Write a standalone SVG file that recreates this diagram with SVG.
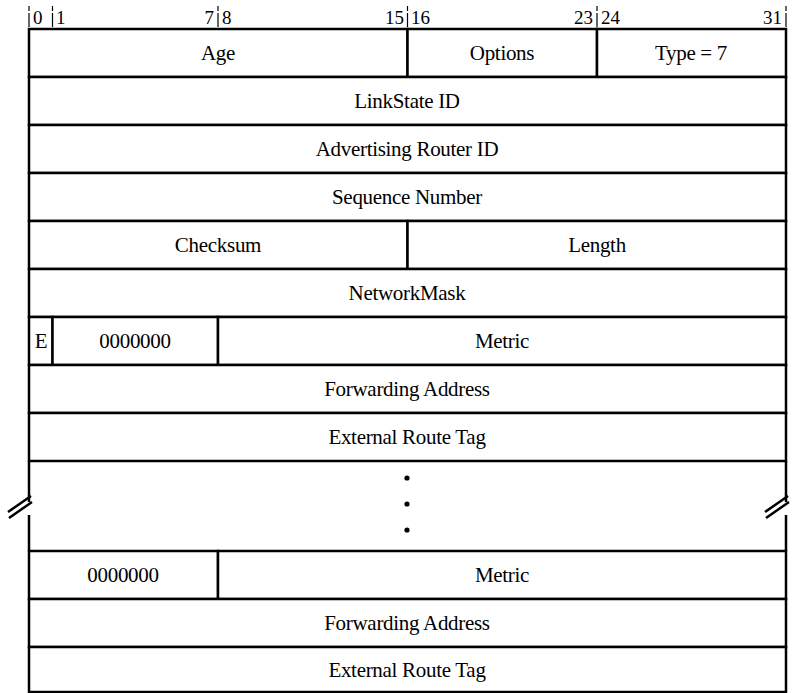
<svg xmlns="http://www.w3.org/2000/svg" width="798" height="693" viewBox="0 0 798 693">
  <style>
    .cell { fill: #ffffff; stroke: #000000; stroke-width: 2.5; }
    .lbl { font-family: 'Liberation Serif', 'Times New Roman', Times, 'DejaVu Serif', serif; font-size: 21px; fill: #000000; text-anchor: middle; letter-spacing: -0.3px; }
    .bit { font-family: 'Liberation Serif', 'Times New Roman', Times, 'DejaVu Serif', serif; font-size: 19px; fill: #000000; }
    .tick { stroke: #000000; stroke-width: 1.2; stroke-dasharray: 5 2 14; }
    .edge { stroke: #000000; stroke-width: 2.5; fill: none; }
  </style>

  <!-- bit ruler -->
  <g id="ruler">
    <line class="tick" x1="29" y1="6" x2="29" y2="28"/>
    <line class="tick" x1="52.5" y1="6" x2="52.5" y2="28"/>
    <line class="tick" x1="218" y1="6" x2="218" y2="28"/>
    <line class="tick" x1="407.5" y1="6" x2="407.5" y2="28"/>
    <line class="tick" x1="597" y1="6" x2="597" y2="28"/>
    <line class="tick" x1="786" y1="6" x2="786" y2="28"/>
    <text class="bit" x="33" y="24">0</text>
    <text class="bit" x="56" y="24">1</text>
    <text class="bit" x="214" y="24" text-anchor="end">7</text>
    <text class="bit" x="222" y="24">8</text>
    <text class="bit" x="404" y="24" text-anchor="end">15</text>
    <text class="bit" x="411" y="24">16</text>
    <text class="bit" x="593" y="24" text-anchor="end">23</text>
    <text class="bit" x="601" y="24">24</text>
    <text class="bit" x="782" y="24" text-anchor="end">31</text>
  </g>

  <g id="age"><rect class="cell" x="29" y="29" width="378.5" height="48"/><text class="lbl" x="218" y="60">Age</text></g>
  <g id="options"><rect class="cell" x="407.5" y="29" width="189.5" height="48"/><text class="lbl" x="502" y="60">Options</text></g>
  <g id="type"><rect class="cell" x="597" y="29" width="189" height="48"/><text class="lbl" x="691" y="60">Type = 7</text></g>

  <g id="link-state-id"><rect class="cell" x="29" y="77" width="757" height="48"/><text class="lbl" x="407" y="108">LinkState ID</text></g>
  <g id="advertising-router"><rect class="cell" x="29" y="125" width="757" height="48"/><text class="lbl" x="407" y="156">Advertising Router ID</text></g>
  <g id="sequence-number"><rect class="cell" x="29" y="173" width="757" height="48"/><text class="lbl" x="407" y="204">Sequence Number</text></g>

  <g id="checksum"><rect class="cell" x="29" y="221" width="378.5" height="48"/><text class="lbl" x="218" y="252">Checksum</text></g>
  <g id="length"><rect class="cell" x="407.5" y="221" width="378.5" height="48"/><text class="lbl" x="597" y="252">Length</text></g>

  <g id="network-mask"><rect class="cell" x="29" y="269" width="757" height="48"/><text class="lbl" x="407" y="300">NetworkMask</text></g>

  <g id="e-bit"><rect class="cell" x="29" y="317" width="23.5" height="48"/><text class="lbl" x="41" y="348">E</text></g>
  <g id="zero-bits-1"><rect class="cell" x="52.5" y="317" width="165.5" height="48"/><text class="lbl" x="135" y="348">0000000</text></g>
  <g id="metric-1"><rect class="cell" x="218" y="317" width="568" height="48"/><text class="lbl" x="502" y="348">Metric</text></g>

  <g id="forwarding-1"><rect class="cell" x="29" y="365" width="757" height="48"/><text class="lbl" x="407" y="396">Forwarding Address</text></g>
  <g id="route-tag-1"><rect class="cell" x="29" y="413" width="757" height="48"/><text class="lbl" x="407" y="444">External Route Tag</text></g>

  <!-- repeated section, elided -->
  <g id="ellipsis">
    <circle cx="407" cy="478" r="2.6" fill="#000"/>
    <circle cx="407" cy="504" r="2.6" fill="#000"/>
    <circle cx="407" cy="530" r="2.6" fill="#000"/>
  </g>

  <g id="side-breaks">
    <path class="edge" d="M29 461 V502 M29 515 V551"/>
    <path class="edge" d="M786 461 V502 M786 515 V551"/>
    <path class="edge" d="M8 512 L31 496 M9 518 L32 502" stroke-width="2"/>
    <path class="edge" d="M765 512 L788 496 M766 518 L789 502" stroke-width="2"/>
  </g>

  <g id="zero-bits-n"><rect class="cell" x="29" y="551" width="189" height="48"/><text class="lbl" x="123" y="582">0000000</text></g>
  <g id="metric-n"><rect class="cell" x="218" y="551" width="568" height="48"/><text class="lbl" x="502" y="582">Metric</text></g>
  <g id="forwarding-n"><rect class="cell" x="29" y="599" width="757" height="48"/><text class="lbl" x="407" y="630">Forwarding Address</text></g>
  <g id="route-tag-n"><rect class="cell" x="29" y="647" width="757" height="45"/><text class="lbl" x="407" y="677">External Route Tag</text></g>
</svg>
